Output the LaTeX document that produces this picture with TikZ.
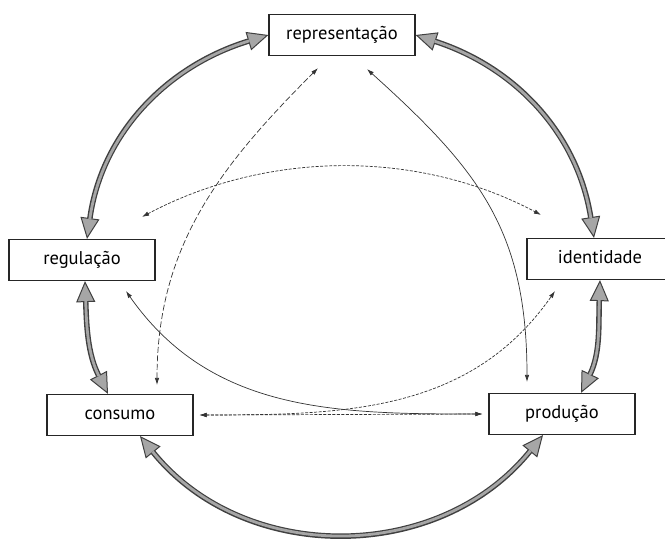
\documentclass[tikz,border=0pt]{standalone}
\usepackage{fontspec}
\setmainfont{PT Sans}
\usetikzlibrary{arrows.meta}

\begin{document}
\begin{tikzpicture}[x=1pt,y=-1pt,
  box/.style={draw=black!85,line width=1.2pt,fill=white,minimum width=146pt,minimum height=41pt,inner sep=0pt,
    font=\fontsize{18.5}{20}\selectfont,text height=13pt,text depth=4pt},
  ring/.style={draw=black!75,line width=5.5pt,
    {Triangle[length=21pt,width=19pt,line width=1pt,fill=gray!70]}-{Triangle[length=21pt,width=19pt,line width=1pt,fill=gray!70]},
    postaction={draw=gray!70,line width=2.8pt,-,shorten <=20pt,shorten >=20pt}},
  link/.style={draw=black!80,line width=0.7pt,{Latex[length=7pt,width=4.5pt]}-{Latex[length=7pt,width=4.5pt]}},
  longdash/.style={dash pattern=on 6pt off 2.5pt},
  shortdash/.style={dash pattern=on 3pt off 1.5pt}]
\useasboundingbox (0,0) rectangle (665,539);

\node[box] (repr) at (342,35) {representação};
\node[box] (reg) at (82,260) {regulação};
\node[box] (ident) at (600,259) {identidade};
\node[box] (cons) at (120,415) {consumo};
\node[box] (prod) at (562,414) {produção};

% outer ring
\draw[ring] (repr.west) to[out=197,in=82] ([xshift=5pt]reg.north);
\draw[ring] (repr.east) to[out=-18,in=99] ([xshift=-6pt]ident.north);
\draw[ring] ([xshift=3pt]reg.south) to[out=-88,in=117] ([xshift=-12pt]cons.north);
\draw[ring] (ident.south) to[out=-92,in=64] ([xshift=19pt]prod.north);
\draw[ring] ([xshift=20pt]cons.south) to[out=-51,in=-129,looseness=1.05] ([xshift=-19pt]prod.south);

% inner links
\draw[link,longdash] ([xshift=37pt,yshift=9pt]cons.north) to[out=90,in=225] ([xshift=-24pt,yshift=-12pt]repr.south);
\draw[link] ([xshift=25pt,yshift=-13pt]repr.south) to[out=-42,in=90,looseness=1.1] ([xshift=-35pt,yshift=11pt]prod.north);
\draw[link,shortdash] ([xshift=60pt,yshift=22pt]reg.north) to[out=28,in=152,looseness=0.9] ([xshift=-59pt,yshift=23pt]ident.north);
\draw[link] ([xshift=44pt,yshift=-10pt]reg.south) to[out=-55,in=180] ([xshift=-6pt]prod.west);
\draw[link,shortdash] ([xshift=6pt]cons.east) to[out=0,in=-125] ([xshift=-45pt,yshift=-11pt]ident.south);
\draw[link,shortdash] ([xshift=6pt]cons.east) -- ([xshift=-6pt]prod.west);

\end{tikzpicture}
\end{document}
